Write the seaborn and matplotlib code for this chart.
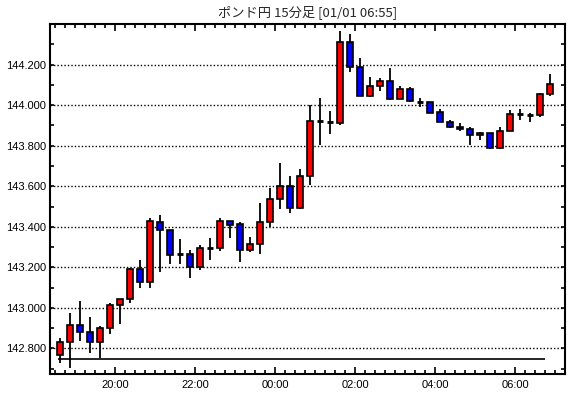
import numpy as np
import pandas as pd
import matplotlib
matplotlib.use("Agg")
import matplotlib.pyplot as plt
import seaborn as sns

# 15-minute candles, 18:30 .. 06:45
opens = [142.766, 142.830, 142.918, 142.879, 142.830, 142.903, 143.012, 143.046, 143.194, 143.130,
         143.425, 143.385, 143.264, 143.267, 143.201, 143.297, 143.297, 143.430, 143.415, 143.287,
         143.316, 143.425, 143.538, 143.602, 143.494, 143.651, 143.921, 143.919, 143.912, 144.313,
         144.190, 144.043, 144.094, 144.118, 144.028, 144.080, 144.017, 144.015, 143.965, 143.916,
         143.892, 143.882, 143.851, 143.862, 143.787, 143.872, 143.956, 143.953, 143.951, 144.054]
highs = [142.851, 142.974, 143.033, 142.954, 142.913, 143.023, 143.046, 143.197, 143.234, 143.441,
         143.457, 143.385, 143.338, 143.284, 143.312, 143.343, 143.444, 143.430, 143.426, 143.351,
         143.515, 143.592, 143.716, 143.648, 143.687, 144.000, 144.036, 143.970, 144.367, 144.350,
         144.234, 144.138, 144.133, 144.183, 144.095, 144.089, 144.034, 144.015, 143.980, 143.926,
         143.913, 143.893, 143.869, 143.862, 143.893, 143.977, 143.980, 143.961, 144.059, 144.154]
lows = [142.729, 142.705, 142.837, 142.778, 142.754, 142.872, 142.921, 143.024, 143.098, 143.100,
        143.177, 143.216, 143.215, 143.147, 143.187, 143.236, 143.280, 143.344, 143.226, 143.275,
        143.264, 143.400, 143.487, 143.467, 143.487, 143.605, 143.803, 143.856, 143.902, 144.164,
        144.043, 144.038, 144.072, 144.023, 144.028, 144.017, 143.992, 143.959, 143.916, 143.885,
        143.870, 143.803, 143.828, 143.782, 143.782, 143.872, 143.925, 143.915, 143.939, 144.043]
closes = [142.830, 142.918, 142.879, 142.830, 142.903, 143.012, 143.046, 143.194, 143.130, 143.430,
          143.385, 143.262, 143.264, 143.201, 143.297, 143.297, 143.430, 143.410, 143.287, 143.316,
          143.425, 143.538, 143.602, 143.494, 143.651, 143.921, 143.921, 143.919, 144.313, 144.190,
          144.043, 144.094, 144.118, 144.028, 144.080, 144.021, 144.017, 143.963, 143.916, 143.892,
          143.880, 143.851, 143.862, 143.787, 143.872, 143.956, 143.956, 143.953, 144.054, 144.103]

time_labels = ["20:00", "22:00", "00:00", "02:00", "04:00", "06:00"]
ref_level = 142.746
title = "ポンド円 15分足 [01/01 06:55]"

df = pd.DataFrame({"open": opens, "high": highs, "low": lows, "close": closes})
df["x"] = np.arange(len(df))

sns.set_style("white")
plt.rcParams["font.family"] = ["Noto Sans CJK JP", "DejaVu Sans"]

fig = plt.figure(figsize=(5.7, 3.98), dpi=100)
ax = fig.add_axes([50 / 570, 24 / 398, 515 / 570, 350 / 398])

# reference line
ax.hlines(ref_level, -0.25, 48.5, color="black", lw=1.2, zorder=2)

# wicks
ax.vlines(df["x"], df["low"], df["high"], color="black", lw=1.3, zorder=3)

# bodies
up = df[df["close"] > df["open"]]
down = df[df["close"] < df["open"]]
flat = df[df["close"] == df["open"]]
ax.bar(up["x"], up["close"] - up["open"], bottom=up["open"], width=0.62,
       color="#ff0000", edgecolor="black", lw=1.2, zorder=4)
ax.bar(down["x"], down["open"] - down["close"], bottom=down["close"], width=0.62,
       color="#0000ff", edgecolor="black", lw=1.2, zorder=4)
ax.hlines(flat["close"], flat["x"] - 0.31, flat["x"] + 0.31, color="black", lw=2, zorder=4)

ax.set_xlim(-1.03, 50.47)
ax.set_ylim(142.674, 144.399)

major_x = [5.5 + 8 * k for k in range(len(time_labels))]
ax.set_xticks(major_x)
ax.set_xticklabels(time_labels)
ax.set_xticks(np.arange(-0.5, 50.5, 1), minor=True)

yt = np.arange(142.8, 144.21, 0.2)
ax.set_yticks(yt)
ax.set_yticklabels([f"{v:.3f}" for v in yt])
ax.set_yticks(np.arange(142.7, 144.41, 0.1), minor=True)

ax.yaxis.grid(True, which="major", color="black", linestyle=(0, (1, 1.5)), lw=1.0)
ax.xaxis.grid(False)
ax.set_axisbelow(True)

ax.tick_params(axis="both", which="both", direction="in", top=True, right=True,
               bottom=True, left=True, color="black", width=1.2, labelsize=8,
               labelcolor="black")
ax.tick_params(axis="x", which="major", length=5, pad=4)
ax.tick_params(axis="x", which="minor", length=3)
ax.tick_params(axis="y", which="both", length=3, pad=3)
for lab in ax.get_xticklabels() + ax.get_yticklabels():
    lab.set_fontfamily("Liberation Sans")

for s in ax.spines.values():
    s.set_color("black")
    s.set_linewidth(1.5)
    s.set_visible(True)

# title centred over the plot area
ax.text(0.5, 1 + 12 / 350, title, transform=ax.transAxes, ha="center", va="center",
        fontsize=9.5)

fig.savefig("out.png", dpi=100)
